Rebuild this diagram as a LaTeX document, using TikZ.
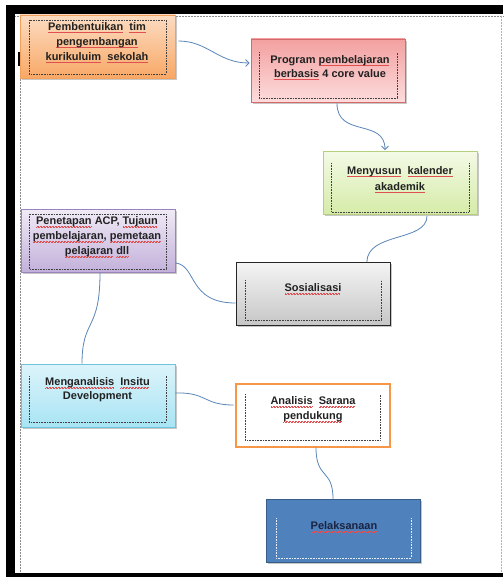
\documentclass[tikz,border=0pt]{standalone}
\usepackage{fontspec}
\setmainfont{Liberation Sans}
\usetikzlibrary{arrows.meta,shadows,calc}
\definecolor{txtc}{HTML}{222222}
\definecolor{sqred}{HTML}{E05050}
\definecolor{conn}{HTML}{5A86B8}
\definecolor{orT}{HTML}{FCDCC2}
\definecolor{orB}{HTML}{F8A866}
\definecolor{orD}{HTML}{F4A05A}
\definecolor{piT}{HTML}{F3A0A0}
\definecolor{piB}{HTML}{FDDCDC}
\definecolor{piD}{HTML}{D46A6A}
\definecolor{grT}{HTML}{F4FAE6}
\definecolor{grB}{HTML}{D5EBA8}
\definecolor{grD}{HTML}{B4D07C}
\definecolor{puT}{HTML}{F0EAF6}
\definecolor{puB}{HTML}{C2B0DA}
\definecolor{puD}{HTML}{9A84BC}
\definecolor{gyT}{HTML}{F4F4F4}
\definecolor{gyB}{HTML}{C6C6C6}
\definecolor{cyT}{HTML}{DDF4FA}
\definecolor{cyB}{HTML}{A8E4F4}
\definecolor{cyD}{HTML}{6CC4DA}
\definecolor{anD}{HTML}{F79646}
\definecolor{blF}{HTML}{4F81BD}
\definecolor{blD}{HTML}{385D8A}
\definecolor{blT}{HTML}{1B2440}
\newsavebox\sqbox
\newcommand\sq[1]{\leavevmode\sbox\sqbox{#1}\rlap{\hbox to \wd\sqbox{\color{sqred}\leaders\hbox{\rule[-2.7pt]{0.75pt}{0.5pt}\rule[-2.1pt]{0.75pt}{0.5pt}}\hfil}}\usebox\sqbox}
\begin{document}
\begin{tikzpicture}[x=1pt,y=-1pt,
  box/.style={rectangle, minimum width=154pt, minimum height=63pt, inner sep=0pt, line width=0.8pt,
    drop shadow={shadow xshift=1.6pt, shadow yshift=-1.8pt, fill=black, opacity=0.22}},
  txt/.style={font=\fontsize{11}{15}\selectfont\bfseries, text=txtc, align=center, inner sep=0pt},
  inner/.style={densely dotted, line width=0.6pt, black!75},
  conline/.style={draw=conn, line width=0.8pt},
  arr/.style={conline, -{Straight Barb[length=3.5pt,width=7pt]}}
]
\useasboundingbox (0,0) rectangle (503,577);
\fill[white] (0,0) rectangle (503,577);
% page frame
\fill[black] (6,5) rectangle (503,14);
\fill[black] (6,5) rectangle (15,577);
\fill[black] (6,573) rectangle (503,577);
\draw[densely dotted, black!45, line width=0.5pt] (15,16) -- (503,16);
\draw[densely dotted, black!45, line width=0.5pt] (20,16) -- (20,572);
\draw[densely dotted, black!30, line width=0.5pt] (501.5,16) -- (501.5,572);
\fill[black] (18,52) rectangle (20,66);

% boxes
\node[box, minimum width=155pt, top color=orT, bottom color=orB, draw=orD] (b1) at (97.5,46.5) {};
\node[box, top color=piT, bottom color=piB, draw=piD] (b2) at (328,70.5) {};
\node[box, top color=grT, bottom color=grB, draw=grD] (b3) at (400,183) {};
\node[box, top color=puT, bottom color=puB, draw=puD] (b4) at (98.5,241) {};
\node[box, top color=gyT, bottom color=gyB, draw=black!85, line width=1pt] (b5) at (313,294) {};
\node[box, top color=cyT, bottom color=cyB, draw=cyD] (b6) at (98,395.5) {};
\node[box, fill=white, draw=anD, line width=2pt] (b7) at (312.5,415) {};
\node[box, fill=blF, draw=blD, line width=1pt] (b8) at (343.5,531) {};

% inner dotted frames
\draw[inner] (29,20) rectangle (166,74);
\draw[inner] (259,52) -- (259,98) -- (397,98) -- (397,52);
\draw[inner] (331,163) -- (331,212) -- (469,212) -- (469,163);
\draw[inner] (29,214) rectangle (166,269);
\draw[inner] (245,280) -- (245,320) -- (381,320) -- (381,280);
\draw[inner] (29,376) -- (29,422) -- (166,422) -- (166,376);
\draw[inner] (245,394) -- (245,440) -- (380,440) -- (380,394);
\draw[densely dotted, line width=0.6pt, white!85!blF] (276,518) -- (276,558) -- (411,558) -- (411,518);

% texts
\node[txt] (t1) at (97,42.5) {\sq{Pembentuikan}\ \ \sq{tim}\\\sq{pengembangan}\\\sq{kurikuluim}\ \ \sq{sekolah}};
\node[txt, font=\fontsize{11}{14}\selectfont\bfseries] (t2) at (330,67.5) {Program \sq{pembelajaran}\\\sq{berbasis} 4 core value};
\node[txt, font=\fontsize{11}{16}\selectfont\bfseries] (t3) at (400,179.5) {\sq{Menyusun}\ \ \sq{kalender}\\\sq{akademik}};
\node[txt] (t4) at (97,237) {\sq{Penetapan} ACP, \sq{Tujaun}\\\sq{pembelajaran}, \sq{pemetaan}\\\sq{pelajaran} \sq{dll}};
\node[txt] (t5) at (313,289) {\sq{Sosialisasi}};
\node[txt, font=\fontsize{11}{14}\selectfont\bfseries] (t6) at (97.5,390) {\sq{Menganalisis}\ \ \sq{Insitu}\\Development};
\node[txt] (t7) at (313,409.5) {\sq{Analisis}\ \ \sq{Sarana}\\\sq{pendukung}};
\node[txt, text=blT] (t8) at (344,527) {\sq{Pelaksanaan}};

% connectors
\draw[arr] ($(b1.east)+(3,-5.5)$) .. controls (208,41) and (218,63) .. ($(b2.west)+(-1,-7.5)$);
\draw[arr] ($(b2.south)+(9,1)$) .. controls (337,138) and (385,118) .. ($(b3.north)+(-15,-1)$);
\draw[conline] ($(b3.south)+(27,1)$) .. controls (427,242) and (367,232) .. ($(b5.north)+(54,0)$);
\draw[conline] ($(b4.east)+(0,22)$) .. controls (197,266) and (188,303) .. ($(b5.west)+(0,9)$);
\draw[conline] ($(b4.south)+(1.5,0)$) .. controls (100,332) and (82,318) .. ($(b6.north)+(-16,0)$);
\draw[conline] ($(b6.east)+(0,-2.5)$) .. controls (207,392) and (203,405) .. ($(b7.west)+(-1,-10)$);
\draw[conline] ($(b7.south)+(3.5,0)$) .. controls (316,480) and (333,468) .. ($(b8.north)+(-10.5,0)$);
\end{tikzpicture}
\end{document}
